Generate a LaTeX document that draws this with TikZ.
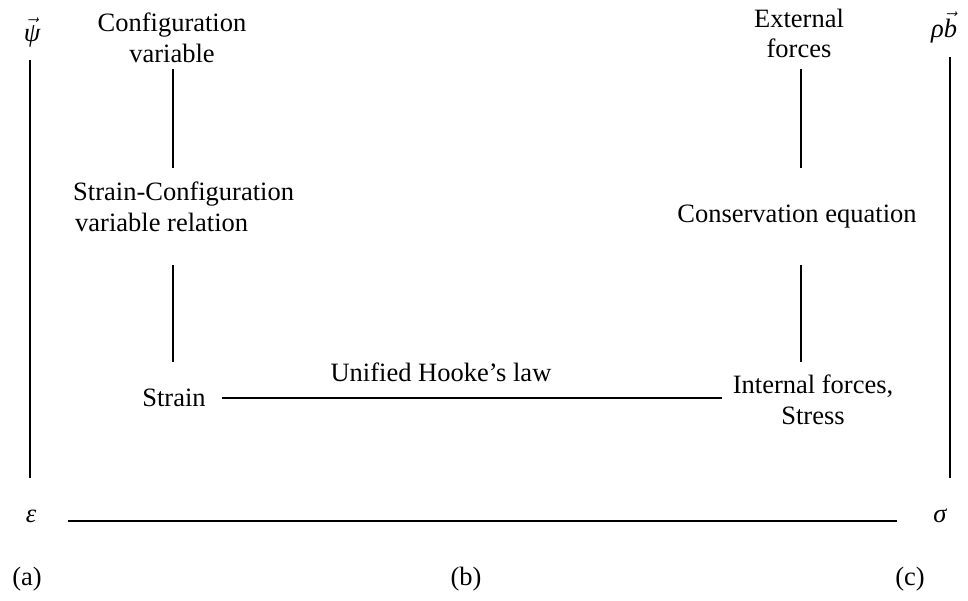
\documentclass[tikz,border=0pt]{standalone}
\usepackage{fontspec}
\setmainfont{Liberation Serif}
\begin{document}
\begin{tikzpicture}[x=1pt,y=-1pt,
  txt/.style={inner sep=0pt,anchor=base,font=\fontsize{26.5}{30}\selectfont},
  conn/.style={line width=1.6pt}]
\useasboundingbox (0,0) rectangle (968,600);
% labels
\node[txt] (psi) at (32,41) {\ensuremath{\vec{\hbox{\itshape ψ}}}};
\node[txt] (rhob) at (944,37) {\ensuremath{\hbox{\itshape ρ}\vec{\hbox{\itshape b}}}};
\node[txt] (eps) at (31,522) {\itshape ε};
\node[txt] (sig) at (940,522) {\itshape σ};
\node[txt] (a) at (27,585) {(a)};
\node[txt] (b) at (466,585) {(b)};
\node[txt] (c) at (910,585) {(c)};
% boxes
\node[txt] (cv1) at (172,31.5) {Configuration};
\node[txt] (cv2) at (172,62) {variable};
\node[txt] (ef1) at (799,27.5) {External};
\node[txt] (ef2) at (799,57) {forces};
\node[txt,anchor=base west] (sc1) at (73,200) {Strain-Configuration};
\node[txt,anchor=base west] (sc2) at (75,231) {variable relation};
\node[txt] (ce) at (797,222) {Conservation equation};
\node[txt] (st) at (174,406) {Strain};
\node[txt] (uh) at (441,381) {Unified Hooke’s law};
\node[txt] (if1) at (813,393) {Internal forces,};
\node[txt] (if2) at (813,424) {Stress};
% connector end points
\coordinate (p1) at (30,60);   \coordinate (p2) at (30,478);
\coordinate (q1) at (950,57);  \coordinate (q2) at (950,478);
\coordinate (c1) at (173,69);  \coordinate (c2) at (173,168);
\coordinate (c3) at (173,265); \coordinate (c4) at (173,362);
\coordinate (e1) at (801,69);  \coordinate (e2) at (801,168);
\coordinate (e3) at (801,265); \coordinate (e4) at (801,362);
\coordinate (h1) at (222,398); \coordinate (h2) at (722,398);
\coordinate (g1) at (68,521); \coordinate (g2) at (897,521);
\draw[conn] (p1) -- (p2);
\draw[conn] (q1) -- (q2);
\draw[conn] (c1) -- (c2);
\draw[conn] (c3) -- (c4);
\draw[conn] (e1) -- (e2);
\draw[conn] (e3) -- (e4);
\draw[conn] (h1) -- (h2);
\draw[conn] (g1) -- (g2);
\end{tikzpicture}
\end{document}
